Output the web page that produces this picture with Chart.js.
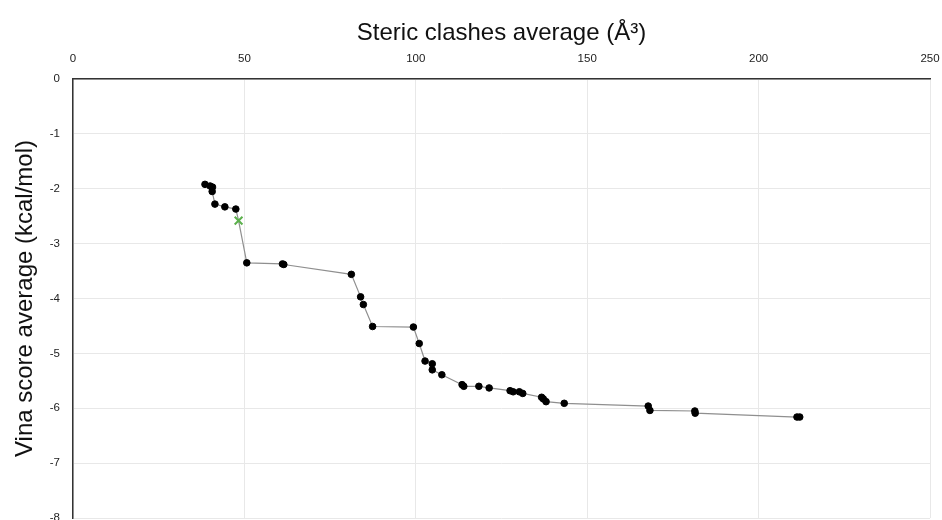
<!DOCTYPE html>
<html>
<head>
<meta charset="utf-8">
<script src="https://cdn.jsdelivr.net/npm/chart.js@4/dist/chart.umd.min.js"></script>
<style>
  html, body { margin: 0; padding: 0; background: #fff; overflow: hidden; }
  #wrap { width: 942px; height: 560px; }
</style>
</head>
<body>
<div id="wrap"><canvas id="c" width="942" height="560"></canvas></div>
<script>
// ---- data ----
const clashAverage = [38.5, 40.0, 40.7, 40.6, 41.4, 44.3, 47.5, 48.3, 50.7, 61.1, 61.5,
  81.2, 83.9, 84.7, 87.4, 99.3, 101.0, 102.7, 104.8, 104.8, 107.6, 113.5, 114.0,
  118.4, 121.4, 127.5, 128.4, 130.2, 131.2, 136.7, 137.2, 138.0, 143.3,
  167.8, 168.3, 181.4, 181.5, 211.2, 212.0];
const vinaAverage = [-1.92, -1.95, -1.97, -2.05, -2.28, -2.33, -2.37, -2.58, -3.35, -3.37, -3.38,
  -3.56, -3.97, -4.11, -4.51, -4.52, -4.82, -5.14, -5.19, -5.30, -5.39, -5.57, -5.60,
  -5.60, -5.63, -5.68, -5.70, -5.70, -5.73, -5.80, -5.83, -5.88, -5.91,
  -5.96, -6.04, -6.05, -6.09, -6.16, -6.16];
const referenceIndex = 7; // point drawn as green cross
const xTickValues = [0, 50, 100, 150, 200, 250];
const yTickValues = [0, -1, -2, -3, -4, -5, -6, -7, -8];
const xTitle = 'Steric clashes average (Å³)';
const yTitle = 'Vina score average (kcal/mol)';

const points = clashAverage.map((x, i) => ({ x: x, y: vinaAverage[i] }));
const isRef = clashAverage.map((_, i) => i === referenceIndex);
const FONT = '"Liberation Sans", Arial, Helvetica, sans-serif';

new Chart(document.getElementById('c'), {
  type: 'scatter',
  data: {
    datasets: [{
      data: points,
      showLine: true,
      borderColor: '#8f8f8f',
      borderWidth: 1.2,
      pointStyle: isRef.map(r => r ? 'crossRot' : 'circle'),
      pointRadius: isRef.map(r => r ? 5.5 : 3.3),
      pointBackgroundColor: isRef.map(r => r ? '#5cb04c' : '#000'),
      pointBorderColor: isRef.map(r => r ? '#5cb04c' : '#000'),
      pointBorderWidth: isRef.map(r => r ? 2 : 1),
      tension: 0
    }]
  },
  options: {
    responsive: false,
    animation: false,
    layout: { padding: { left: 0, top: 0, right: 12, bottom: 42 } },
    plugins: { legend: { display: false }, tooltip: { enabled: false } },
    scales: {
      x: {
        type: 'linear',
        position: 'top',
        min: 0, max: 250,
        afterBuildTicks: s => { s.ticks = xTickValues.map(v => ({ value: v })); },
        afterFit: s => { s.height = 79; s.paddingLeft = 0; s.paddingRight = 0; },
        border: { display: true, color: '#333', width: 1.5 },
        grid: { color: '#e8e8e8', lineWidth: 1, drawTicks: false },
        ticks: { padding: 13, color: '#222', font: { family: FONT, size: 11.5 } },
        title: { display: true, text: xTitle, color: '#111', padding: { top: 19, bottom: 0 },
                 font: { family: FONT, size: 24 } }
      },
      y: {
        type: 'linear',
        position: 'left',
        min: -8, max: 0,
        afterBuildTicks: s => { s.ticks = yTickValues.map(v => ({ value: v })); },
        afterFit: s => { s.width = 73; },
        border: { display: true, color: '#333', width: 1.5 },
        grid: { color: '#e8e8e8', lineWidth: 1, drawTicks: false },
        ticks: { padding: 13, color: '#222', font: { family: FONT, size: 11.5 } },
        title: { display: true, text: yTitle, color: '#111', padding: { top: 11, bottom: 0 },
                 font: { family: FONT, size: 24 } }
      }
    }
  }
});
</script>
</body>
</html>
